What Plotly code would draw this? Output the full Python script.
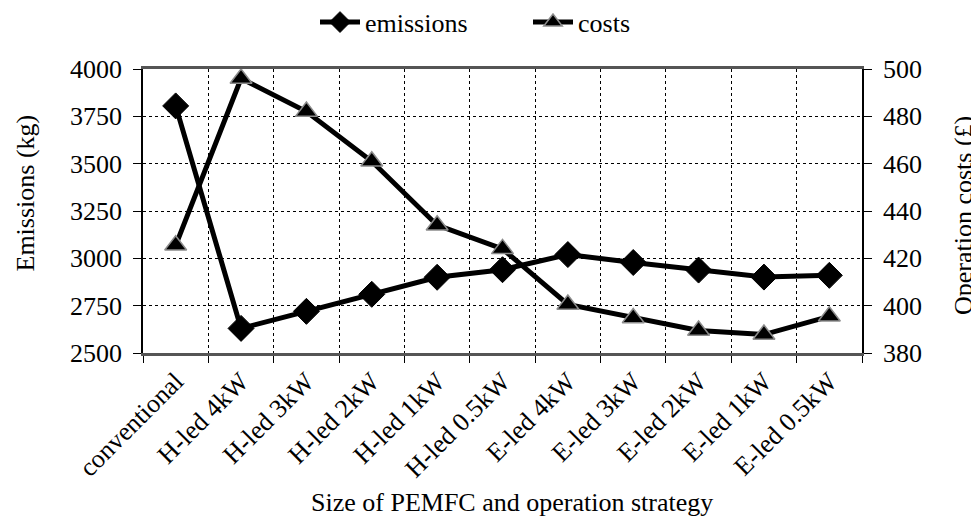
import plotly.graph_objects as go

categories = ["conventional", "H-led 4kW", "H-led 3kW", "H-led 2kW", "H-led 1kW",
              "H-led 0.5kW", "E-led 4kW", "E-led 3kW", "E-led 2kW", "E-led 1kW", "E-led 0.5kW"]
emissions = [3805, 2630, 2720, 2810, 2900, 2940, 3020, 2978, 2938, 2901, 2910]
costs = [425.5, 496, 482, 461, 434, 424, 400.5, 394.8, 389.5, 387.8, 395.5]
emis_range = [2500, 4000]
cost_range = [380, 500]

FONT = "Liberation Serif"
FS = 26

fig = go.Figure()
fig.add_trace(go.Scatter(
    x=categories, y=emissions, name="emissions", mode="lines+markers",
    line=dict(color="black", width=5),
    marker=dict(symbol="diamond", size=20, color="black", line=dict(color="black", width=1)),
    cliponaxis=False,
))
fig.add_trace(go.Scatter(
    x=categories, y=costs, name="costs", mode="lines+markers", yaxis="y2",
    line=dict(color="black", width=5),
    marker=dict(symbol="triangle-up", size=19, color="black", line=dict(color="#8c8c8c", width=1.5)),
    cliponaxis=False,
))
# invisible carriers so the label-only axes get drawn
fig.add_trace(go.Scatter(x=categories, y=emissions, yaxis="y3", mode="lines",
                         line=dict(color="rgba(0,0,0,0)", width=0), showlegend=False,
                         hoverinfo="skip"))
fig.add_trace(go.Scatter(x=categories, y=costs, yaxis="y4", mode="lines",
                         line=dict(color="rgba(0,0,0,0)", width=0), showlegend=False,
                         hoverinfo="skip"))

W = 790.0
fig.update_layout(
    width=971, height=511,
    margin=dict(l=100, r=81, t=61, b=166, autoexpand=False),
    paper_bgcolor="white", plot_bgcolor="white",
    font=dict(family=FONT, size=FS, color="black"),
    showlegend=True,
    legend=dict(orientation="h", x=(520 - 100) / W, xanchor="center", y=1.165, yanchor="middle",
                font=dict(family=FONT, size=FS), itemwidth=40, tracegroupgap=0,
                entrywidth=158, entrywidthmode="pixels",
                bgcolor="rgba(0,0,0,0)"),
    xaxis=dict(
        type="category", range=[-0.5, 10.5], tickson="boundaries",
        domain=[(135 - 100) / W, (854 - 100) / W],
        showgrid=True, gridcolor="black", griddash="dot", gridwidth=1,
        showline=True, linecolor="#555555", linewidth=2.5, mirror=True,
        ticks="outside", ticklen=7, tickcolor="black", tickwidth=1,
        tickangle=-45, tickfont=dict(family=FONT, size=FS),
        automargin=False,
    ),
    yaxis=dict(
        range=emis_range, dtick=250, tick0=2500,
        showgrid=True, gridcolor="black", griddash="dot", gridwidth=1,
        showline=True, linecolor="black", linewidth=2,
        ticks="outside", ticklen=8, tickcolor="black", tickwidth=1,
        showticklabels=False, zeroline=False, automargin=False,
    ),
    yaxis2=dict(
        overlaying="y", side="right", anchor="x",
        range=cost_range, dtick=20, tick0=380,
        showgrid=False, showline=True, linecolor="black", linewidth=2,
        ticks="outside", ticklen=8, tickcolor="black", tickwidth=1,
        showticklabels=False, zeroline=False, automargin=False,
    ),
    yaxis3=dict(
        overlaying="y", side="left", anchor="free", position=(114 - 100) / W,
        range=emis_range, dtick=250, tick0=2500,
        showgrid=False, showline=False, ticks="", zeroline=False,
        tickfont=dict(family=FONT, size=FS), automargin=False,
    ),
    yaxis4=dict(
        overlaying="y", side="right", anchor="free", position=(874 - 100) / W,
        range=cost_range, dtick=20, tick0=380,
        showgrid=False, showline=False, ticks="", zeroline=False,
        tickfont=dict(family=FONT, size=FS), automargin=False,
    ),
    annotations=[
        dict(text="Size of PEMFC and operation strategy", xref="paper", yref="paper",
             x=(512.5 - 108) / W, y=-0.528, xanchor="center", yanchor="middle", showarrow=False,
             font=dict(family=FONT, size=FS)),
        dict(text="Emissions (kg)", xref="paper", yref="paper",
             x=(25 - 108) / W, y=(353 - 193.5) / 284, xanchor="center", yanchor="middle",
             textangle=-90, showarrow=False, font=dict(family=FONT, size=FS)),
        dict(text="Operation costs (£)", xref="paper", yref="paper",
             x=(963 - 108) / W, y=(353 - 216) / 284, xanchor="center", yanchor="middle",
             textangle=-90, showarrow=False, font=dict(family=FONT, size=FS)),
    ],
)

fig.write_html("out.html")
